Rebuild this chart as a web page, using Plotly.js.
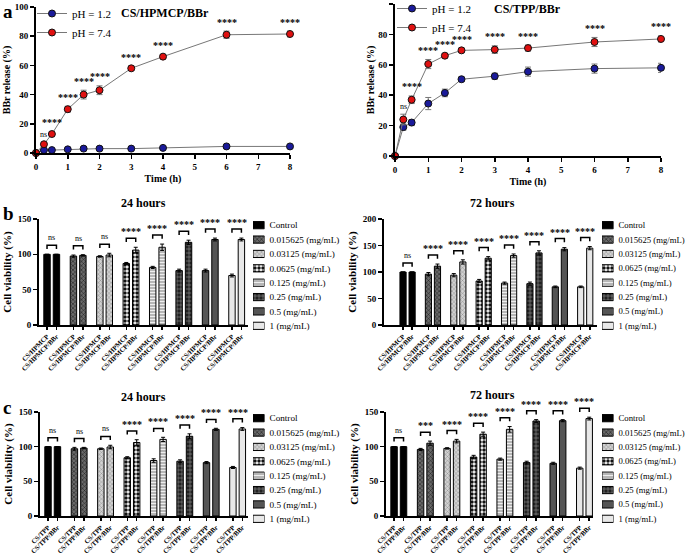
<!DOCTYPE html>
<html><head><meta charset="utf-8">
<script src="https://cdn.plot.ly/plotly-3.0.1.min.js"></script>
<style>body{margin:0;background:#fff}</style>
</head><body><div id="chart" style="width:685px;height:554px"></div>
<script>
// ---------- DATA ----------
const timeH = [0, 0.25, 0.5, 1, 1.5, 2, 3, 4, 6, 8];
const hpmcpPH12 = [0, 2, 2, 2.5, 3, 3, 3, 3.5, 4.5, 4.5];
const hpmcpPH12Err = [0, 0.5, 0.5, 0.5, 0.6, 0.6, 0.6, 0.6, 0.8, 0.8];
const hpmcpPH74 = [0, 6, 13, 30, 40, 43, 58, 66, 81, 81.5];
const hpmcpPH74Err = [0, 1, 1.5, 2, 3, 3, 1.5, 1.5, 2.5, 2];
const hpmcpSig = ["", "ns", "****", "****", "****", "****", "****", "****", "****", "****"];

const tppPH12 = [0, 19, 22, 34.5, 41.5, 50.5, 52.5, 55.5, 57.5, 58];
const tppPH12Err = [0, 2, 2, 4, 2.5, 1.5, 2, 3, 3, 3];
const tppPH74 = [0, 24, 37, 60.5, 66, 69.5, 70, 71, 75, 77];
const tppPH74Err = [0, 3.5, 2.5, 3, 1.5, 1.5, 2.5, 2, 3, 2];
const tppSig = ["", "ns", "****", "****", "****", "****", "****", "****", "****", "****"];

const concLabels = ["Control", "0.015625 (mg/mL)", "0.03125 (mg/mL)", "0.0625 (mg/mL)",
  "0.125 (mg/mL)", "0.25 (mg/mL)", "0.5 (mg/mL)", "1 (mg/mL)"];

const b24Carrier = [100, 97.5, 97, 87, 81.5, 77, 77, 70];
const b24CarrierErr = [0, 1.5, 1, 1.5, 1.5, 2, 2, 2];
const b24Drug = [100, 98.5, 99, 106, 110, 117, 121, 121];
const b24DrugErr = [0, 1, 2.5, 4, 4.5, 3, 2, 2];
const b24Sig = ["ns", "ns", "ns", "****", "****", "****", "****", "****"];

const b72Carrier = [100, 96, 94, 83, 79, 78, 72, 72];
const b72CarrierErr = [0, 3, 3, 3, 2, 3, 1.5, 1.5];
const b72Drug = [100, 111, 119, 126, 131, 136, 143, 145];
const b72DrugErr = [0, 4, 4, 3, 3, 4, 3, 3];
const b72Sig = ["ns", "****", "****", "****", "****", "****", "****", "****"];

const c24Carrier = [100, 97, 97, 84, 80, 79, 77, 70];
const c24CarrierErr = [0, 2, 1, 1.5, 2.5, 2, 1.5, 1.5];
const c24Drug = [100, 98, 99.5, 106, 110.5, 115, 125, 125.5];
const c24DrugErr = [0, 1, 2.5, 4, 3, 3.5, 1.5, 2];
const c24Sig = ["ns", "ns", "ns", "****", "****", "****", "****", "****"];

const c72Carrier = [100, 96, 97.5, 85, 82, 77, 76, 69];
const c72CarrierErr = [0, 1.5, 1, 2.5, 1.5, 2, 1.5, 1.5];
const c72Drug = [100, 105, 108, 118, 125, 137, 137.5, 140.5];
const c72DrugErr = [0, 3, 2.5, 3, 4, 2, 1.5, 2];
const c72Sig = ["ns", "***", "****", "****", "****", "****", "****", "****"];

const hpmcpTicks = ["CS/HPMCP", "CS/HPMCP/BBr"];
const tppTicks = ["CS/TPP", "CS/TPP/BBr"];

// ---------- STYLE / LAYOUT HELPERS ----------
const W = 685, H = 554;
const FONT = "Liberation Serif, Times New Roman, serif";
const px = v => v / W;
const py = v => 1 - v / H;
const G = 2.8; // group spacing in bar units
const EXT = 1.3; // invisible twin axes extend the bar plots upward (same scale)

const barStyles = [
  {color: '#000'},
  {color: '#666', pattern: {shape: 'x', bgcolor: '#6a6a6a', fgcolor: '#222', size: 3, solidity: 0.35}},
  {color: '#ccc', pattern: {shape: 'x', bgcolor: '#d2d2d2', fgcolor: '#888', size: 3, solidity: 0.3}},
  {color: '#fff', pattern: {shape: '.', bgcolor: '#fff', fgcolor: '#111', size: 4, solidity: 0.6}},
  {color: '#ddd', pattern: {shape: '-', bgcolor: '#aaa', fgcolor: '#eee', size: 3, solidity: 0.45}},
  {color: '#333', pattern: {shape: '+', bgcolor: '#222', fgcolor: '#999', size: 4, solidity: 0.25}},
  {color: '#555'},
  {color: '#e8e8e8'}
];

const traces = [];
const shapes = [];
const annotations = [];
const starFont = {family: FONT, size: 10, weight: 'bold', color: '#000'};
const nsFont = {family: FONT, size: 8, color: '#000'};

function addRelease(ax, p12, e12, p74, e74, sig) {
  const xa = 'x' + (ax === 1 ? '' : ax), ya = 'y' + (ax === 1 ? '' : ax);
  const common = {x: timeH, type: 'scatter', mode: 'lines+markers', cliponaxis: false,
    line: {color: '#777', width: 1}, xaxis: xa, yaxis: ya,
    legend: ax === 1 ? 'legend' : 'legend2'};
  traces.push(Object.assign({}, common, {y: p12, name: 'pH = 1.2',
    error_y: {type: 'data', array: e12, color: '#777', thickness: 1, width: 3},
    marker: {size: 7, color: '#1a1a9a', line: {color: '#111', width: 1}}}));
  traces.push(Object.assign({}, common, {y: p74, name: 'pH = 7.4',
    error_y: {type: 'data', array: e74, color: '#777', thickness: 1, width: 3},
    marker: {size: 7, color: '#e01010', line: {color: '#111', width: 1}}}));
  sig.forEach((s, i) => {
    if (!s) return;
    annotations.push({xref: xa, yref: ya, x: timeH[i], xanchor: 'center',
      y: Math.max(p74[i] + e74[i], p12[i] + e12[i]) + 1,
      yanchor: 'bottom', showarrow: false, text: s, font: s === 'ns' ? nsFont : starFont});
  });
}

function addBars(ax, carrier, ce, drug, de, sig, R) {
  const xa = 'x' + ax, ya = 'y' + ax, yt = 'y' + (ax + 8);
  // dummy trace to register the twin (annotation) subplot
  traces.push({type: 'scatter', x: [null], y: [null], xaxis: xa, yaxis: yt, showlegend: false, hoverinfo: 'skip'});
  for (let k = 0; k < carrier.length; k++) {
    traces.push({type: 'bar', x: [k * G, k * G + 1], y: [carrier[k], drug[k]], width: 0.68,
      marker: Object.assign({line: {color: '#000', width: 1}}, barStyles[k]),
      error_y: {type: 'data', array: [ce[k], de[k]], color: '#000', thickness: 1, width: 2},
      xaxis: xa, yaxis: ya, showlegend: false, hoverinfo: 'skip'});
    const top = Math.max(carrier[k] + ce[k], drug[k] + de[k]) + 0.085 * R;
    const leg = top - 0.035 * R;
    const x1 = k * G, x2 = k * G + 1;
    shapes.push({type: 'path', xref: xa, yref: yt,
      path: `M ${x1},${leg} L ${x1},${top} L ${x2},${top} L ${x2},${leg}`,
      line: {color: '#000', width: 1.5}});
    annotations.push({xref: xa, yref: yt, x: (x1 + x2) / 2, xanchor: 'center', y: top, yanchor: 'bottom', showarrow: false,
      text: sig[k], yshift: sig[k] === 'ns' ? 1 : -1,
      font: sig[k] === 'ns' ? nsFont : starFont});
  }
}

function addLegendSwatches(ax) {
  for (let k = 0; k < concLabels.length; k++) {
    traces.push({type: 'bar', orientation: 'h', y: [k], x: [1], base: 0, width: 0.5,
      marker: Object.assign({line: {color: '#000', width: 1}}, barStyles[k]),
      xaxis: 'x' + ax, yaxis: 'y' + ax, showlegend: false, hoverinfo: 'skip'});
  }
}

addRelease(1, hpmcpPH12, hpmcpPH12Err, hpmcpPH74, hpmcpPH74Err, hpmcpSig);
addRelease(2, tppPH12, tppPH12Err, tppPH74, tppPH74Err, tppSig);
addBars(3, b24Carrier, b24CarrierErr, b24Drug, b24DrugErr, b24Sig, 150);
addBars(4, b72Carrier, b72CarrierErr, b72Drug, b72DrugErr, b72Sig, 200);
addBars(5, c24Carrier, c24CarrierErr, c24Drug, c24DrugErr, c24Sig, 150);
addBars(6, c72Carrier, c72CarrierErr, c72Drug, c72DrugErr, c72Sig, 150);
[7, 8, 9, 10].forEach(addLegendSwatches);

const tickFont = {family: FONT, size: 9, weight: 'bold', color: '#000'};
const titleFont = {family: FONT, size: 11, weight: 'bold', color: '#000'};
const axBase = {showline: true, linewidth: 2, linecolor: '#000', ticks: 'outside', ticklen: 4,
  tickwidth: 1.5, tickcolor: '#000', showgrid: false, zeroline: false, tickfont: tickFont, fixedrange: true};

function relX(dom, anchor) {
  return Object.assign({}, axBase, {domain: dom, anchor: anchor, range: [0, 8], tickvals: [0,1,2,3,4,5,6,7,8],
    title: {text: 'Time (h)', font: {family: FONT, size: 10, weight: 'bold'}, standoff: 4}});
}
function relY(dom, anchor) {
  return Object.assign({}, axBase, {domain: dom, anchor: anchor, range: [0, 100], dtick: 20,
    title: {text: 'BBr release (%)', font: {family: FONT, size: 10, weight: 'bold'}, standoff: 2}});
}
function barX(dom, anchor, range, labels) {
  const tv = [], tt = [];
  for (let k = 0; k < 8; k++) { tv.push(k * G, k * G + 1); tt.push(labels[0], labels[1]); }
  return Object.assign({}, axBase, {domain: dom, anchor: anchor, range: range, tickvals: tv, ticktext: tt,
    tickangle: -45, tickfont: {family: FONT, size: 6.7, weight: 'bold', color: '#000'}, ticklen: 3});
}
function barY(dom, anchor, range, dtick) {
  return Object.assign({}, axBase, {domain: dom, anchor: anchor, range: range, dtick: dtick,
    title: {text: 'Cell viability (%)', font: titleFont, standoff: 4}});
}
function twinY(dom, anchor, range) {
  const top = Math.min(1, dom[0] + (dom[1] - dom[0]) * EXT);
  const f = (top - dom[0]) / (dom[1] - dom[0]);
  return {domain: [dom[0], top], anchor: anchor, range: [range[0], range[1] * f], visible: false, fixedrange: true};
}
function legX(x0) { return {domain: [px(x0), px(x0 + 11.5)], range: [0, 1], visible: false, fixedrange: true}; }
function legY(y0, anchor, fs) {
  return {domain: [py(y0 + 115), py(y0)], anchor: anchor, range: [7.5, -0.5], side: 'right',
    tickvals: [0,1,2,3,4,5,6,7], ticktext: concLabels, showline: false, ticks: '', showgrid: false,
    zeroline: false, ticklabelstandoff: 4, tickfont: {family: FONT, size: fs, color: '#000'}, fixedrange: true};
}

const d3y = [py(325), py(219)], d4y = [py(325), py(219)], d5y = [py(516), py(412)], d6y = [py(516), py(412)];
const centered = (x, y, text, size) => ({xref: 'paper', yref: 'paper', x: px(x), y: py(y), xanchor: 'center',
  yanchor: 'middle', showarrow: false, text: text, font: {family: FONT, size: size, weight: 'bold', color: '#000'}});
const letter = (y, t) => ({xref: 'paper', yref: 'paper', x: px(1), y: py(y), xanchor: 'left', yanchor: 'middle',
  showarrow: false, text: t, font: {family: FONT, size: 19, weight: 'bold', color: '#000'}});

const layout = {
  width: W, height: H, margin: {l: 0, r: 0, t: 0, b: 0, autoexpand: false},
  paper_bgcolor: '#fff', plot_bgcolor: 'rgba(0,0,0,0)',
  barmode: 'overlay', showlegend: true, font: {family: FONT, color: '#000'},
  xaxis: relX([px(36), px(290)], 'y'),
  yaxis: relY([py(153), py(7)], 'x'),
  xaxis2: relX([px(395), px(661)], 'y2'),
  yaxis2: relY([py(156), py(4)], 'x2'),
  xaxis3: barX([px(39), px(248)], 'y3', [-0.85, 21.3], hpmcpTicks),
  yaxis3: barY(d3y, 'x3', [0, 150], 50),
  xaxis4: barX([px(384), px(597)], 'y4', [-2.1, 21.4], hpmcpTicks),
  yaxis4: barY(d4y, 'x4', [0, 200], 50),
  xaxis5: barX([px(40), px(248)], 'y5', [-0.85, 21.2], tppTicks),
  yaxis5: barY(d5y, 'x5', [0, 150], 50),
  xaxis6: barX([px(386), px(593)], 'y6', [-0.85, 21.0], tppTicks),
  yaxis6: barY(d6y, 'x6', [0, 150], 50),
  xaxis7: legX(253), yaxis7: legY(218, 'x7', 9.2),
  xaxis8: legX(602), yaxis8: legY(218, 'x8', 8.7),
  xaxis9: legX(253), yaxis9: legY(411, 'x9', 9.2),
  xaxis10: legX(602), yaxis10: legY(411, 'x10', 8.7),
  yaxis11: twinY(d3y, 'x3', [0, 150]),
  yaxis12: twinY(d4y, 'x4', [0, 200]),
  yaxis13: twinY(d5y, 'x5', [0, 150]),
  yaxis14: twinY(d6y, 'x6', [0, 150]),
  legend: {x: px(32), y: py(-1), xanchor: 'left', yanchor: 'top', bgcolor: 'rgba(0,0,0,0)',
    font: {family: FONT, size: 11}, itemwidth: 30, tracegroupgap: 0},
  legend2: {x: px(392), y: py(-6), xanchor: 'left', yanchor: 'top', bgcolor: 'rgba(0,0,0,0)',
    font: {family: FONT, size: 11}, itemwidth: 30, tracegroupgap: 0},
  shapes: shapes,
  annotations: annotations.concat([
    letter(12, 'a'), letter(213, 'b'), letter(407, 'c'),
    centered(165, 13, 'CS/HPMCP/BBr', 12),
    centered(527, 9, 'CS/TPP/BBr', 12),
    centered(143, 203, '24 hours', 12),
    centered(492, 203, '72 hours', 12),
    centered(143, 397, '24 hours', 12),
    centered(492, 395, '72 hours', 12)
  ])
};

Plotly.newPlot('chart', traces, layout, {staticPlot: true, displayModeBar: false});
</script>
</body></html>
